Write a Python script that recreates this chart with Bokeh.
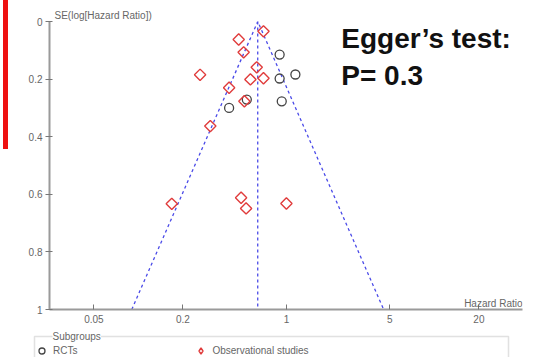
from bokeh.plotting import figure
from bokeh.models import Range1d, FixedTicker, Label, Legend, LegendItem, Div, BoxAnnotation
from bokeh.layouts import row, column
from bokeh.embed import file_html
from bokeh.resources import INLINE
import math

# ---- data ----
rct_hr = [0.90, 0.90, 1.15, 0.54, 0.93, 0.41]
rct_se = [0.115, 0.198, 0.184, 0.271, 0.277, 0.300]

obs_hr = [0.70, 0.476, 0.514, 0.261, 0.63, 0.571, 0.70, 0.41, 0.52, 0.306, 0.168, 0.494, 0.534, 1.00]
obs_se = [0.034, 0.0625, 0.107, 0.185, 0.159, 0.201, 0.197, 0.23, 0.277, 0.363, 0.633, 0.612, 0.649, 0.632]

groups = ["RCTs", "Observational studies"]
pooled_hr = 0.64
se_max = 1.0
x_ticks = [0.05, 0.2, 1, 5, 20]
y_ticks = [0, 0.2, 0.4, 0.6, 0.8, 1]

rct_style = dict(marker="circle", size=9, fill_color=None, line_color="#444444", line_width=1.3)
obs_style = dict(marker="square", angle=math.pi / 4, size=8, fill_color=None, line_color="#e03c3c", line_width=1.4)

p = figure(width=529, height=330, x_axis_type="log",
           x_range=Range1d(0.02506, 39.4), y_range=Range1d(1, 0),
           output_backend="svg", toolbar_location=None,
           min_border_left=41, min_border_right=15, min_border_top=21, min_border_bottom=21)
p.outline_line_color = None
p.grid.visible = False
p.background_fill_color = "white"

# y-axis title at the top
p.title.text = "SE(log[Hazard Ratio])"
p.title.text_font = "Liberation Sans"
p.title.text_font_size = "10px"
p.title.text_font_style = "normal"
p.title.text_color = "#666666"
p.title.offset = 5
p.title.standoff = 1
p.title.align = "left"

# funnel
lo = pooled_hr * math.exp(-1.96 * se_max)
hi = pooled_hr * math.exp(1.96 * se_max)
funnel_col = "#4a4ae8"
p.line([lo, pooled_hr, hi], [se_max, 0, se_max], line_color=funnel_col, line_dash="3 3", line_width=1.3)
p.line([pooled_hr, pooled_hr], [0, se_max], line_color=funnel_col, line_dash="3 3", line_width=1.3)

p.scatter(rct_hr, rct_se, **rct_style)
p.scatter(obs_hr, obs_se, **obs_style)

# axes
for ax in (p.xaxis[0], p.yaxis[0]):
    ax.axis_line_color = "#9a9a9a"
    ax.axis_line_width = 2
    ax.major_tick_line_color = "#777777"
    ax.minor_tick_line_color = None
    ax.major_label_text_color = "#666666"
    ax.major_label_text_font = "Liberation Sans"
    ax.major_label_text_font_size = "10px"

p.xaxis.ticker = FixedTicker(ticks=x_ticks)
p.xaxis.major_label_overrides = {0.05: "0.05", 0.2: "0.2", 1: "1", 5: "5", 20: "20"}
p.xaxis.major_tick_in = 5
p.xaxis.major_tick_out = 0
p.xaxis.major_label_standoff = 5

p.yaxis.ticker = FixedTicker(ticks=y_ticks)
p.yaxis.major_label_overrides = {0: "0", 0.2: "0.2", 0.4: "0.4", 0.6: "0.6", 0.8: "0.8", 1: "1"}
p.yaxis.major_tick_in = 3
p.yaxis.major_tick_out = 4
p.yaxis.major_label_standoff = 3

# x-axis title
p.add_layout(Label(x=39.4, y=0.979, text="Hazard Ratio", text_font="Liberation Sans",
                   text_font_size="10px", text_color="#666666", text_baseline="middle", text_align="right"))

# Egger's test annotation
p.add_layout(Label(x=2.35, y=0.006, text="Egger\u2019s test:", text_font="Liberation Sans",
                   text_font_style="bold", text_font_size="28px", text_color="#111111", text_baseline="top"))
p.add_layout(Label(x=2.35, y=0.134, text="P= 0.3", text_font="Liberation Sans",
                   text_font_style="bold", text_font_size="28px", text_color="#111111", text_baseline="top"))

# legend strip below the plot (pixel-like ranges, y downward)
pl = figure(width=537, height=27, output_backend="svg", toolbar_location=None,
            min_border=0, x_range=Range1d(0, 537), y_range=Range1d(27, 0))
pl.axis.visible = False
pl.grid.visible = False
pl.outline_line_color = None
# group box frame
pl.add_layout(BoxAnnotation(left=34, right=508, top=6, bottom=40, fill_color=None, fill_alpha=0,
                            line_color="#9a9a9a", line_width=1.5))
pl.add_layout(Label(x=52, y=6, text="Subgroups", text_font="Liberation Sans", text_font_size="10px",
                    text_color="#666666", text_baseline="middle", background_fill_color="white",
                    background_fill_alpha=1))
# hidden renderers that only supply the legend glyphs
leg_obs_style = dict(obs_style, marker="diamond", angle=0)
lr_rct = pl.scatter(rct_hr[:1], rct_se[:1], visible=False, **rct_style)
lr_obs = pl.scatter(obs_hr[:1], obs_se[:1], visible=False, **leg_obs_style)
legend = Legend(items=[LegendItem(label=groups[0], renderers=[lr_rct]),
                       LegendItem(label=groups[1], renderers=[lr_obs])],
                orientation="horizontal", location=(34, -1),
                label_text_font_size="10px", label_text_color="#666666", label_text_font="Liberation Sans",
                border_line_color=None, background_fill_alpha=0, spacing=116,
                padding=2, margin=0, glyph_width=15, glyph_height=15, label_standoff=4,
                label_height=12)
pl.add_layout(legend, "center")

# red slide-frame corner at the far left
red_corner = Div(text='<div style="margin-left:3px;width:0px;height:149px;border-right:5px solid #ee1111;'
                      'border-bottom:4px solid #ee1111;"></div>',
                 width=8, height=330, margin=0)

layout = column(row(red_corner, p, spacing=0), pl, spacing=0)
open("out.html", "w").write(file_html(layout, INLINE))
